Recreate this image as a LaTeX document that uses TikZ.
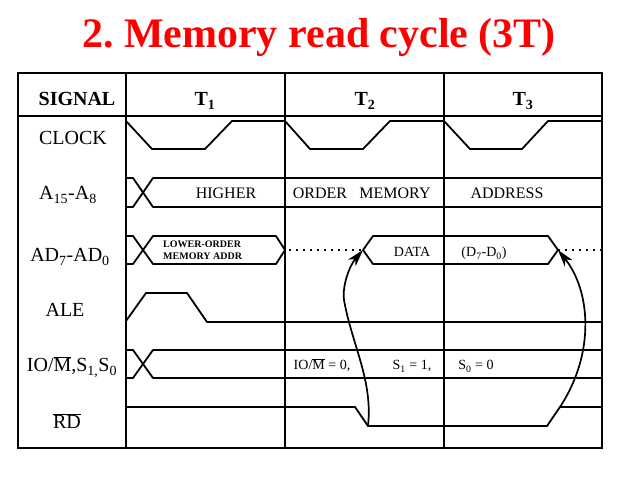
\documentclass[tikz,border=0pt]{standalone}
\usepackage{fontspec}
\setmainfont{Liberation Serif}
\usetikzlibrary{arrows.meta}
\newcommand\ovl[1]{$\overline{\hbox{#1}}$}

\begin{document}
\begin{tikzpicture}[x=1pt,y=-1pt,
  frame/.style={line width=1.8pt},
  wave/.style={line width=1.8pt,line join=round},
  dots/.style={line width=1.8pt,dash pattern=on 1.8pt off 5.2pt},
  sig/.style={font=\fontsize{20}{20}\selectfont,anchor=base},
  head/.style={font=\fontsize{20}{20}\selectfont\bfseries,anchor=base},
  bus/.style={font=\fontsize{16}{16}\selectfont,anchor=base},
  small/.style={font=\fontsize{14}{14}\selectfont,anchor=base},
  tiny/.style={font=\fontsize{10}{10}\selectfont\bfseries,anchor=base west,inner sep=0pt},
  timing/.style={-{Stealth[length=17pt,width=10pt,inset=5pt]},line width=1.7pt}]
\useasboundingbox (0,0) rectangle (638,478);
\node[red,font=\fontsize{42}{42}\selectfont\bfseries,anchor=base] (title) at (319,48) {2.\ Memory read cycle (3T)};
\draw[frame] (18,73) rectangle (602,448);
\draw[frame] (126,73) -- (126,448);
\draw[frame] (285,73) -- (285,448);
\draw[frame] (444,73) -- (444,448);
\draw[frame] (18,116) -- (602,116);
\draw[wave] (126,121) -- (152,149) -- (205,149) -- (232,121) -- (285,121) -- (310,149) -- (363,149) -- (390,121) -- (444,121) -- (470,149) -- (522,149) -- (548,121) -- (602,121);
\draw[wave] (126,178) -- (133,178) -- (153,207) -- (602,207);
\draw[wave] (126,207) -- (133,207) -- (153,178) -- (602,178);
\draw[wave] (126,236) -- (133,236) -- (153,264) -- (276,264) -- (285,250) -- (276,236) -- (153,236) -- (133,264) -- (126,264);
\coordinate (datal) at (363,250);
\coordinate (datar) at (558,250);
\draw[wave] (datal) -- (373,236) -- (548,236) -- (datar) -- (548,264) -- (373,264) -- cycle;
\draw[dots] (289,250) -- (datal);
\draw[dots] (datar) -- (602,250);
\draw[wave] (126,321) -- (146,293) -- (187,293) -- (207,322) -- (602,322);
\draw[wave] (126,350) -- (133,350) -- (153,378) -- (602,378);
\draw[wave] (126,378) -- (133,378) -- (153,350) -- (602,350);
\coordinate (rdfall) at (368,426);
\coordinate (rdrise) at (560,407);
\draw[wave] (126,407) -- (355,407) -- (rdfall) -- (547,426) -- (rdrise) -- (602,407);
\draw[timing] (rdfall) .. controls (373,380) and (352,345) .. (344,300) .. controls (342,285) and (350,265) .. (datal);
\draw[timing] (rdrise) .. controls (596,352) and (590,290) .. (datar);
\node[head] (sigh) at (77,106) {SIGNAL};
\node[head] (t1) at (205,106) {T\textsubscript{1}};
\node[head] (t2) at (365,106) {T\textsubscript{2}};
\node[head] (t3) at (523,106) {T\textsubscript{3}};
\node[sig] (clk) at (73,145) {CLOCK};
\node[sig] (ahi) at (68,200) {A\textsubscript{15}-A\textsubscript{8}};
\node[sig] (alo) at (70,262) {AD\textsubscript{7}-AD\textsubscript{0}};
\node[sig] (ale) at (65,317) {ALE};
\node[sig] (iom) at (72,372) {IO/\ovl{M},S\textsubscript{1,}S\textsubscript{0}};
\node[sig] (rd) at (67,429) {\ovl{RD}};
\node[bus] (hi) at (226,199) {HIGHER};
\node[bus] (ord) at (320,199) {ORDER};
\node[bus] (mem) at (395,199) {MEMORY};
\node[bus] (adr) at (507,199) {ADDRESS};
\node[tiny] (low1) at (163,248) {LOWER-ORDER};
\node[tiny] (low2) at (163,260) {MEMORY ADDR};
\node[small] (dat) at (412,257) {DATA};
\node[small] (dd) at (484,257) {(D\textsubscript{7}-D\textsubscript{0})};
\node[small] (io0) at (322,370) {IO/\ovl{M} = 0,};
\node[small] (s1) at (412,370) {S\textsubscript{1} = 1,};
\node[small] (s0) at (476,370) {S\textsubscript{0} = 0};
\end{tikzpicture}
\end{document}
